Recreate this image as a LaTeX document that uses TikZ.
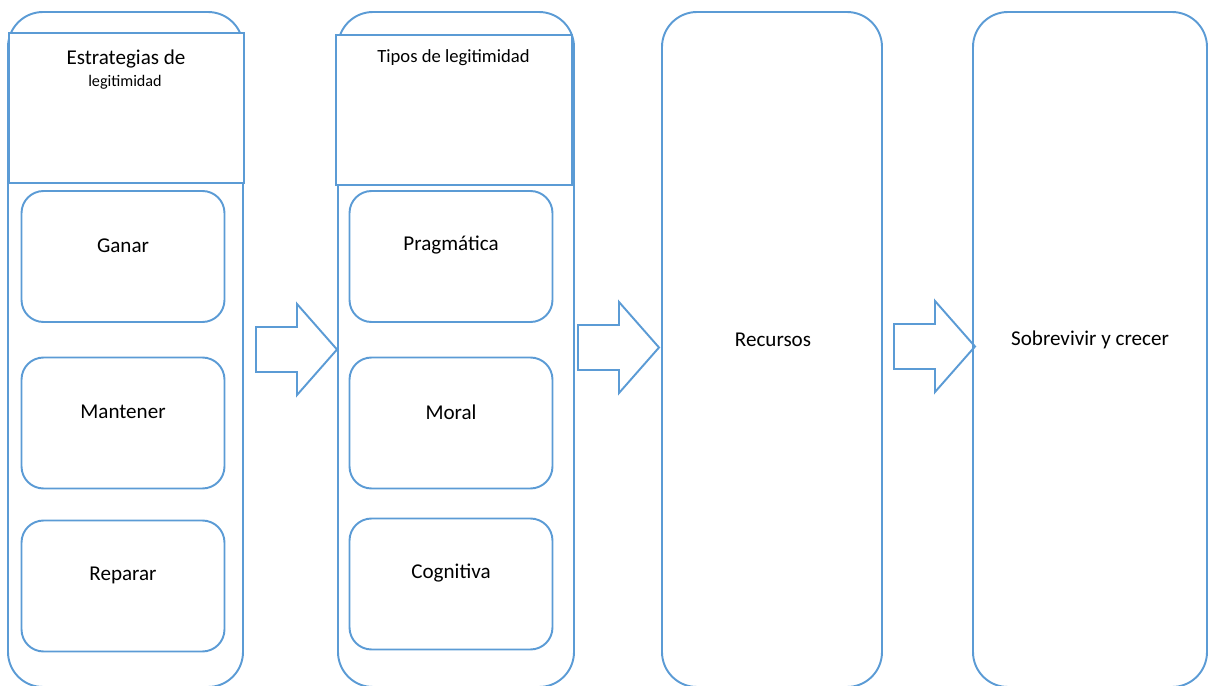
\documentclass[tikz,border=0pt]{standalone}
\usepackage{fontspec}
\setmainfont{Carlito}
\usepackage{tikz}
\usetikzlibrary{positioning}
\definecolor{boxblue}{HTML}{5B9BD5}

\begin{document}
\begin{tikzpicture}[x=0.02cm, y=-0.02cm,
    every node/.style={font=\fontsize{12}{14}\selectfont},
    column/.style={draw=boxblue, line width=1.1pt, rounded corners=0.7cm},
    header/.style={draw=boxblue, line width=1.1pt, fill=white, inner sep=0pt, minimum height=3cm},
    item/.style={draw=boxblue, line width=1.1pt, rounded corners=0.44cm, inner sep=0pt, minimum width=4.06cm, minimum height=2.62cm},
    blockarrow/.style={draw=boxblue, line width=1.1pt}]
	\useasboundingbox (0,0) rectangle (1211,686);
	\clip (0,0) rectangle (1211,686);
	% the four columns
	\draw[column] (8,12) rectangle (243,687);
	\draw[column] (338,12) rectangle (574,687);
	\draw[column] (662,12) rectangle (882,687);
	\draw[column] (973,12) rectangle (1207,687);
	% headers
	\node[header, minimum width=4.7cm] (stratHead) at (126.5,108) {};
	\node[header, minimum width=4.72cm] (tipoHead) at (454,110) {};
	\node[anchor=base] (stratTitle) at (126,65) {Estrategias de};
	\node[anchor=base, font=\fontsize{9.2}{11}\selectfont] (stratSub) at (125,87) {legitimidad};
	\node[anchor=base, font=\fontsize{10.6}{12}\selectfont] (tipoTitle) at (453.5,63) {Tipos de legitimidad};
	% strategies
	\node[item, label={[yshift=0.22cm]center:Ganar}] (ganar) at (123,256.5) {};
	\node[item, label={[yshift=0.22cm]center:Mantener}] (mantener) at (123,423) {};
	\node[item, label={[yshift=0.22cm]center:Reparar}] (reparar) at (123,586) {};
	% types
	\node[item, label={[yshift=0.22cm]center:Pragmática}] (pragma) at (451,256.5) {};
	\node[item, label={[yshift=0.22cm]center:Moral}] (moral) at (451,423) {};
	\node[item, label={[yshift=0.22cm]center:Cognitiva}] (cognit) at (451,584) {};
	% last two columns
	\node (recursos) at (773,340) {Recursos};
	\node (crecer) at (1090,340) {Sobrevivir y crecer};
	% block arrows
	\foreach \ax/\ay in {256/349.5, 578/347.5, 894/346.5}
		\draw[blockarrow] (\ax,\ay-22.5) -- ++(41,0) -- ++(0,-23) -- (\ax+81,\ay)
			-- (\ax+41,\ay+45.5) -- ++(0,-23) -- (\ax,\ay+22.5) -- cycle;
\end{tikzpicture}
\end{document}
